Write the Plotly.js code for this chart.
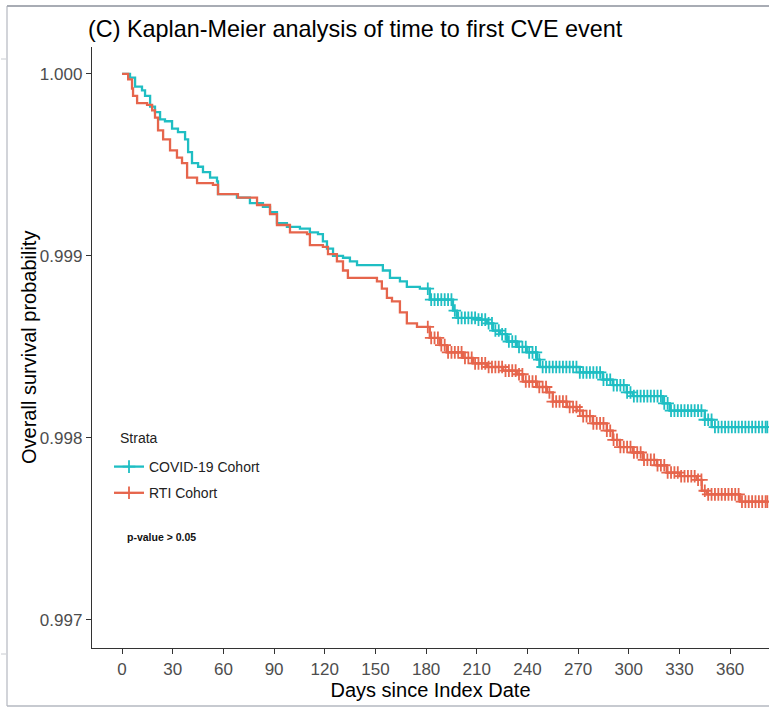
<!DOCTYPE html>
<html>
<head>
<meta charset="utf-8">
<script src="https://cdn.plot.ly/plotly-3.0.1.min.js"></script>
<style>
  html, body { margin: 0; padding: 0; background: #fff; }
  #chart { width: 769px; height: 709px; }
</style>
</head>
<body>
<div id="chart"></div>
<script>
// ---- Data ----
const covidDays = [0, 4.7, 7.7, 11.8, 13.6, 16.6, 19.5, 22.5, 25.4, 29.6, 33.1, 37.3, 39.1, 41.4, 45.0, 47.9, 52.1, 56.2, 56.8, 68.0, 75.7, 83.4, 87.6, 91.7, 97.6, 105.3, 111.2, 116.0, 118.9, 121.3, 124.9, 130.8, 134.9, 139.1, 154.4, 158.6, 164.5, 168.6, 176.3, 182.2, 195.9, 198.2, 210.1, 216.0, 219.5, 223.7, 227.8, 233.7, 239.6, 245.6, 247.3, 271.0, 284.6, 290.5, 298.8, 302.4, 320.1, 324.3, 345.0, 349.1, 382.2];
const covidSurv = [1.00000, 0.99998, 0.99993, 0.99991, 0.99988, 0.99982, 0.99979, 0.99975, 0.99974, 0.99970, 0.99968, 0.99964, 0.99957, 0.99951, 0.99949, 0.99946, 0.99943, 0.99941, 0.99934, 0.99932, 0.99929, 0.99927, 0.99924, 0.99918, 0.99916, 0.99915, 0.99913, 0.99912, 0.99908, 0.99904, 0.99900, 0.99899, 0.99897, 0.99895, 0.99892, 0.99888, 0.99886, 0.99883, 0.99882, 0.99876, 0.99870, 0.99866, 0.99865, 0.99863, 0.99859, 0.99857, 0.99853, 0.99850, 0.99847, 0.99843, 0.99839, 0.99836, 0.99832, 0.99829, 0.99825, 0.99823, 0.99819, 0.99815, 0.99810, 0.99806, 0.99806];

const rtiDays = [0, 3.6, 5.9, 6.5, 8.9, 14.8, 17.8, 19.5, 21.3, 24.3, 28.4, 32.5, 35.5, 38.5, 43.2, 44.4, 53.8, 56.8, 68.6, 79.9, 87.6, 91.7, 99.4, 109.5, 111.2, 118.9, 121.9, 127.2, 130.8, 133.7, 150.9, 153.8, 156.8, 159.8, 164.5, 168.6, 174.6, 182.2, 188.2, 192.3, 201.8, 207.7, 216.0, 225.4, 233.7, 237.3, 245.6, 251.5, 255.0, 263.3, 269.2, 272.8, 278.7, 287.0, 290.5, 294.7, 302.4, 308.3, 316.6, 322.5, 330.2, 340.2, 343.2, 346.2, 365.7, 382.2];
const rtiSurv = [1.00000, 0.99997, 0.99992, 0.99988, 0.99984, 0.99983, 0.99980, 0.99976, 0.99969, 0.99964, 0.99958, 0.99954, 0.99951, 0.99943, 0.99943, 0.99940, 0.99939, 0.99934, 0.99932, 0.99928, 0.99923, 0.99917, 0.99913, 0.99912, 0.99906, 0.99905, 0.99901, 0.99897, 0.99892, 0.99888, 0.99886, 0.99882, 0.99877, 0.99875, 0.99869, 0.99863, 0.99861, 0.99855, 0.99851, 0.99847, 0.99844, 0.99841, 0.99839, 0.99837, 0.99835, 0.99831, 0.99828, 0.99825, 0.99820, 0.99817, 0.99815, 0.99812, 0.99808, 0.99804, 0.99799, 0.99795, 0.99792, 0.99788, 0.99785, 0.99781, 0.99779, 0.99777, 0.99771, 0.99769, 0.99765, 0.99765];

// censoring times (days)
const covidCensor = [181, 183, 185, 187, 189, 191, 193, 195, 197, 199, 201, 203, 205, 207, 209, 211, 213, 215, 217, 219, 221, 223, 225, 227, 229, 231, 233, 235, 237, 239, 241, 243, 245, 247, 249, 251, 253, 255, 257, 259, 261, 263, 265, 267, 269, 271, 273, 275, 277, 279, 281, 283, 285, 287, 289, 291, 293, 295, 297, 299, 301, 303, 305, 307, 309, 311, 313, 315, 317, 319, 321, 323, 325, 327, 329, 331, 333, 335, 337, 339, 341, 343, 345, 347, 349, 351, 353, 355, 357, 359, 361, 363, 365, 367, 369, 371, 373, 375, 377, 379, 381, 382];
const rtiCensor = [181, 183, 185, 187, 189, 191, 193, 195, 197, 199, 201, 203, 205, 207, 209, 211, 213, 215, 217, 219, 221, 223, 225, 227, 229, 231, 233, 235, 237, 239, 241, 243, 245, 247, 249, 251, 253, 255, 257, 259, 261, 263, 265, 267, 269, 271, 273, 275, 277, 279, 281, 283, 285, 287, 289, 291, 293, 295, 297, 299, 301, 303, 305, 307, 309, 311, 313, 315, 317, 319, 321, 323, 325, 327, 329, 331, 333, 335, 337, 339, 341, 343, 345, 347, 349, 351, 353, 355, 357, 359, 361, 363, 365, 367, 369, 371, 373, 375, 377, 379, 381, 382];

const seriesNames = ['COVID-19 Cohort', 'RTI Cohort'];
const xTickVals = [0, 30, 60, 90, 120, 150, 180, 210, 240, 270, 300, 330, 360];
const yTickVals = [0.997, 0.998, 0.999, 1.000];

// ---- Helpers ----
function survAt(days, surv, t) {
  let v = surv[0];
  for (let i = 0; i < days.length; i++) { if (days[i] <= t) v = surv[i]; else break; }
  return v;
}
function censorXY(days, surv, cens) {
  const x = [], y = [];
  cens.forEach((t, i) => {
    if (i > 0) { x.push(null); y.push(null); }
    x.push(t); y.push(survAt(days, surv, t));
  });
  return {x, y};
}

const cTeal = '#1FBEC3';
const cRed = '#E6654C';

const cc = censorXY(covidDays, covidSurv, covidCensor);
const rc = censorXY(rtiDays, rtiSurv, rtiCensor);

const traces = [
  {x: covidDays, y: covidSurv, mode: 'lines', line: {color: cTeal, width: 2.3, shape: 'hv'}, showlegend: false, hoverinfo: 'skip'},
  {x: rtiDays, y: rtiSurv, mode: 'lines', line: {color: cRed, width: 2.3, shape: 'hv'}, showlegend: false, hoverinfo: 'skip'},
  {x: cc.x, y: cc.y, mode: 'lines+markers', name: seriesNames[0], legendgroup: 'a', connectgaps: false,
   line: {color: cTeal, width: 2.3}, marker: {symbol: 'cross-thin', size: 9, color: cTeal, line: {color: cTeal, width: 1.8}}},
  {x: rc.x, y: rc.y, mode: 'lines+markers', name: seriesNames[1], legendgroup: 'b', connectgaps: false,
   line: {color: cRed, width: 2.3}, marker: {symbol: 'cross-thin', size: 9, color: cRed, line: {color: cRed, width: 1.8}}}
];

// plot area in pixels: x 92..769, y 47..648
const L = 92, T = 47, W = 677, H = 601;
function px(xp) { return (xp - L) / W; }
function py(yp) { return (T + H - yp) / H; }
const frameColor = '#B4B8C0';

const layout = {
  width: 769, height: 709,
  margin: {l: L, r: 0, t: T, b: 709 - T - H, pad: 0},
  paper_bgcolor: '#ffffff', plot_bgcolor: '#ffffff',
  font: {family: '"Liberation Sans", Arial, sans-serif', color: '#000'},
  title: {text: '(C) Kaplan-Meier analysis of time to first CVE event', x: 88/769, xanchor: 'left', xref: 'container',
          y: 1 - 29/709, yanchor: 'middle', yref: 'container', font: {size: 23.4, color: '#000'}},
  xaxis: {range: [-17.8, 383], tickvals: xTickVals, ticktext: xTickVals.map(String), showgrid: false, zeroline: false,
          showline: true, linecolor: '#333', linewidth: 1.2, ticks: 'outside', ticklen: 5, tickwidth: 1, tickcolor: '#333',
          tickfont: {size: 17, color: '#4D4D4D'},
          title: {text: 'Days since Index Date', font: {size: 20, color: '#000'}, standoff: 4}},
  yaxis: {range: [0.996846, 1.000148], tickvals: yTickVals, tickformat: '.3f', showgrid: false, zeroline: false,
          showline: true, linecolor: '#333', linewidth: 1.2, ticks: 'outside', ticklen: 5, tickwidth: 1, tickcolor: '#333',
          tickfont: {size: 17, color: '#4D4D4D'}},
  legend: {x: px(109), y: py(451), xanchor: 'left', yanchor: 'top', bgcolor: 'rgba(0,0,0,0)',
           font: {size: 14, color: '#222'}, traceorder: 'grouped', tracegroupgap: 5},
  annotations: [
    {xref: 'paper', yref: 'paper', x: px(29), y: py(348), xanchor: 'center', yanchor: 'middle', showarrow: false, textangle: -90,
     text: 'Overall survival probability', font: {size: 20, color: '#000'}},
    {xref: 'paper', yref: 'paper', x: px(118), y: py(438), xanchor: 'left', yanchor: 'middle', showarrow: false,
     text: 'Strata', font: {size: 14, color: '#222'}},
    {xref: 'paper', yref: 'paper', x: px(125), y: py(537), xanchor: 'left', yanchor: 'middle', showarrow: false,
     text: '<b>p-value &gt; 0.05</b>', font: {size: 10.5, color: '#111'}}
  ],
  shapes: [
    {type: 'line', xref: 'paper', yref: 'paper', x0: px(7), x1: px(7), y0: py(6), y1: py(706), line: {color: frameColor, width: 1.2}},
    {type: 'line', xref: 'paper', yref: 'paper', x0: px(7), x1: px(769), y0: py(6), y1: py(6), line: {color: '#A8ACB4', width: 2}},
    {type: 'line', xref: 'paper', yref: 'paper', x0: px(7), x1: px(769), y0: py(706), y1: py(706), line: {color: frameColor, width: 1.5}},
    {type: 'line', xref: 'paper', yref: 'paper', x0: px(1), x1: px(6), y0: py(59), y1: py(59), line: {color: '#C8CBD0', width: 1}},
    {type: 'line', xref: 'paper', yref: 'paper', x0: px(1), x1: px(6), y0: py(654), y1: py(654), line: {color: '#C8CBD0', width: 1}}
  ]
};

Plotly.newPlot('chart', traces, layout, {staticPlot: true, displayModeBar: false});
</script>
</body>
</html>
